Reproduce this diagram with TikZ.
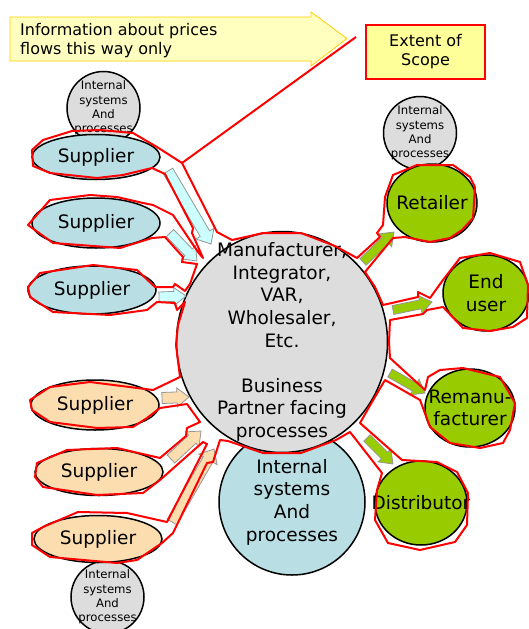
\documentclass[tikz,border=0pt]{standalone}
\usepackage{fontspec}
\setmainfont{DejaVu Sans}
\usepackage{tikz}
\usetikzlibrary{positioning, calc, shapes.geometric}

\definecolor{supblue}{RGB}{185,223,228}
\definecolor{suporange}{RGB}{252,221,176}
\definecolor{hubgrey}{RGB}{221,221,221}
\definecolor{custgreen}{RGB}{153,204,0}
\definecolor{arrcyan}{RGB}{204,255,255}
\definecolor{arrborder}{RGB}{150,150,150}
\definecolor{notefill}{RGB}{255,255,192}
\definecolor{noteborder}{RGB}{255,204,0}
\definecolor{scopefill}{RGB}{255,255,153}

\tikzset{
  bigtext/.style={font=\fontsize{18.5}{22.6}\selectfont},
  smalltext/.style={font=\fontsize{11.7}{14.3}\selectfont},
  party/.style={ellipse, draw=black, line width=1.5pt, inner sep=-30pt, align=center, bigtext},
  supplier/.style={party, minimum width=128pt, minimum height=45pt},
  customer/.style={party, fill=custgreen, minimum width=90pt, minimum height=78pt},
  internal/.style={circle, draw=black, line width=1.5pt, fill=hubgrey, inner sep=-30pt, minimum size=73pt, align=center, smalltext},
  flow/.style={draw=arrborder, line width=0.8pt},
  scopeline/.style={draw=red, line width=2pt, line join=round},
  notetext/.style={font=\fontsize{16}{19}\selectfont}
}

% style, tail, tip, half shaft, half head
\newcommand{\blockarr}[5]{%
  \coordinate (ba-h) at ($(#3)!12pt!(#2)$);
  \path[flow,#1] ($(#2)!#4!90:(#3)$) -- ($(ba-h)!#4!-90:(#2)$) -- ($(ba-h)!#5!-90:(#2)$) -- (#3)
    -- ($(ba-h)!#5!90:(#2)$) -- ($(ba-h)!#4!90:(#2)$) -- ($(#2)!#4!-90:(#3)$) -- cycle;}

\begin{document}
\begin{tikzpicture}[x=1pt, y=-1pt]
\useasboundingbox (0,0) rectangle (528,629);

% internal systems
\node[internal] (intl1) at (103.5,108) {Internal\\systems\\And\\processes};
\node[internal] (intl2) at (107.5,597) {Internal\\systems\\And\\processes};
\node[internal] (intr) at (420,133) {Internal\\systems\\And\\processes};
\node[party, circle, fill=supblue, minimum size=146pt] (intb) at (292,502) {Internal\\systems\\And\\processes};

% the partner in the middle
\node[party, fill=hubgrey, minimum width=211pt, minimum height=221pt] (hub) at (282,342)
  {Manufacturer,\\Integrator,\\VAR,\\Wholesaler,\\Etc.\\[22.6pt]Business\\Partner facing\\processes};

% suppliers
\node[supplier, fill=supblue] (sup1) at (96,157) {Supplier};
\node[supplier, fill=supblue, minimum height=50pt] (sup2) at (96,223) {Supplier};
\node[supplier, fill=supblue, minimum height=48pt] (sup3) at (92,290) {Supplier};
\node[supplier, fill=suporange, minimum height=50pt] (sup4) at (95,405) {Supplier};
\node[supplier, fill=suporange, minimum height=47pt] (sup5) at (99,472) {Supplier};
\node[supplier, fill=suporange, minimum height=47pt] (sup6) at (98,539) {Supplier};

% customers
\node[customer] (retail) at (432,203) {Retailer};
\node[customer, minimum width=86pt, minimum height=76pt] (enduser) at (486,293) {End\\user};
\node[customer] (reman) at (470,408) {Remanu-\\facturer};
\node[customer, minimum width=92pt, minimum height=84pt] (distr) at (421,503) {Distributor};

% flow arrows
\coordinate (a1t) at (168,171); \coordinate (a1h) at (211,244);
\coordinate (a2t) at (170,233); \coordinate (a2h) at (197,261);
\coordinate (a3t) at (159,297); \coordinate (a3h) at (186,296);
\coordinate (a4t) at (162,398); \coordinate (a4h) at (189,397);
\coordinate (a5t) at (171,459); \coordinate (a5h) at (201,431);
\coordinate (a6t) at (172,522); \coordinate (a6h) at (214,449);
\coordinate (g1t) at (363,262); \coordinate (g1h) at (394,232);
\coordinate (g2t) at (393,310); \coordinate (g2h) at (432,302);
\coordinate (g3t) at (390,373); \coordinate (g3h) at (425,393);
\coordinate (g4t) at (367,438); \coordinate (g4h) at (393,464);
\blockarr{fill=arrcyan}{a1t}{a1h}{5.5pt}{10.5pt}
\blockarr{fill=arrcyan}{a2t}{a2h}{5pt}{9.5pt}
\blockarr{fill=arrcyan}{a3t}{a3h}{5pt}{9pt}
\blockarr{fill=suporange}{a4t}{a4h}{5.5pt}{9.5pt}
\blockarr{fill=suporange}{a5t}{a5h}{5.5pt}{10pt}
\blockarr{fill=suporange}{a6t}{a6h}{5.5pt}{10.5pt}
\blockarr{fill=custgreen}{g1t}{g1h}{4.5pt}{9pt}
\blockarr{fill=custgreen}{g2t}{g2h}{4.5pt}{9pt}
\blockarr{fill=custgreen}{g3t}{g3h}{4.5pt}{9pt}
\blockarr{fill=custgreen}{g4t}{g4h}{4.5pt}{9pt}

% extent of scope outline
\coordinate (cut) at (182,163);
\draw[scopeline] (250,236) -- (232,240) -- (217,232) -- (cut) -- (157,147) -- (133,133) -- (100,130)
  -- (72,131) -- (43,140) -- (32,150) -- (33,166) -- (50,173) -- (97,178) -- (123,175) -- (152,168)
  -- (165,174) -- (193,228) -- (192,233) -- (203,258) -- (198,252) -- (173,215) -- (153,205)
  -- (143,203) -- (117,197) -- (90,195) -- (50,200) -- (28,225) -- (53,243) -- (120,248) -- (152,238)
  -- (165,237) -- (183,257) -- (182,262) -- (197,264) -- (190,284) -- (185,291) -- (175,284)
  -- (173,287) -- (155,287) -- (137,270) -- (93,265) -- (40,273) -- (28,287) -- (30,297) -- (53,312)
  -- (110,315) -- (147,310) -- (157,302) -- (175,303) -- (177,310) -- (185,302) -- (178,325)
  -- (176,345) -- (180,377) -- (153,390) -- (90,382) -- (50,387) -- (30,400) -- (32,410) -- (50,422)
  -- (97,428) -- (133,427) -- (147,418) -- (160,408) -- (187,404) -- (200,422) -- (187,428)
  -- (186,436) -- (160,458) -- (117,448) -- (67,450) -- (37,463) -- (35,477) -- (43,487) -- (97,495)
  -- (143,493) -- (160,480) -- (203,442) -- (207,444) -- (167,522) -- (127,513) -- (78,512)
  -- (43,527) -- (32,533) -- (32,545) -- (50,557) -- (117,563) -- (137,560) -- (162,543) -- (173,533)
  -- (207,463) -- (213,462) -- (220,440) -- (228,441) -- (263,453) -- (301,453) -- (336,440)
  -- (350,432) -- (382,473) -- (377,490) -- (375,520) -- (388,543) -- (420,550) -- (455,542)
  -- (467,525) -- (468,493) -- (457,472) -- (437,462) -- (402,460) -- (360,423) -- (372,402)
  -- (385,380) -- (420,400) -- (430,427) -- (450,443) -- (480,448) -- (503,443) -- (510,430)
  -- (515,403) -- (500,377) -- (463,368) -- (440,370) -- (428,377) -- (425,390) -- (390,358)
  -- (389,342) -- (390,320) -- (423,314) -- (427,310) -- (443,307) -- (463,328) -- (490,331)
  -- (513,327) -- (527,318) -- (528,285) -- (520,262) -- (490,253) -- (460,258) -- (443,280)
  -- (430,298) -- (418,292) -- (418,297) -- (383,305) -- (375,287) -- (365,272) -- (393,238)
  -- (405,237) -- (430,242) -- (450,238) -- (462,230) -- (473,218) -- (475,187) -- (470,177)
  -- (453,165) -- (417,165) -- (393,175) -- (385,197) -- (383,225) -- (377,233) -- (380,237)
  -- (357,258) -- (335,246) -- (301,233) -- (263,233) -- cycle;

% price information note
\draw[draw=noteborder, fill=notefill, line width=0.8pt] (10,17) -- (311,17) -- (311,12) -- (347,38.5)
  -- (311,66) -- (311,61) -- (10,61) -- cycle;
\node[notetext, align=left, anchor=west, inner sep=0pt] (info) at (20,41) {Information about prices\\flows this way only};

\node[notetext, draw=red, line width=2pt, fill=scopefill, minimum width=119pt, minimum height=54pt, align=center] (scope) at (425.5,52) {Extent of\\Scope};
\draw[scopeline] ([shift={(-9,-15)}]scope.west) -- (cut);
\end{tikzpicture}
\end{document}
